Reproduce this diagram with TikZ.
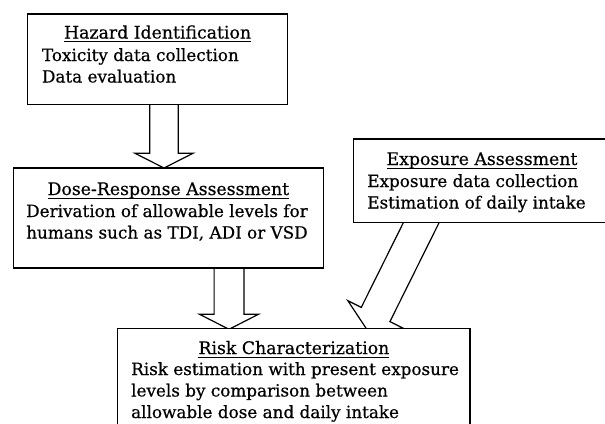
\documentclass[tikz,border=0pt]{standalone}
\usepackage{fontspec}
\setmainfont{DejaVu Serif}[FakeBold=0.6]
\usetikzlibrary{calc}
\pgfdeclarelayer{bg}
\pgfsetlayers{bg,main}
\newcommand\blockarrow[5]{%
  \coordinate (ba-h) at ($(#2)!#5!(#1)$);
  \draw[blk] ($(#1)!#3!-90:(#2)$) -- ($(ba-h)!#3!-90:(#2)$) -- ($(ba-h)!#4!-90:(#2)$)
    -- (#2) -- ($(ba-h)!#4!90:(#2)$) -- ($(ba-h)!#3!90:(#2)$) -- ($(#1)!#3!90:(#2)$);
}
\newcommand\ttlline[1]{%
  \draw[line width=0.8pt] ($(#1.base west)+(0,3)$) -- ($(#1.base east)+(0,3)$);
}
\begin{document}
\begin{tikzpicture}[x=1pt,y=-1pt,
  box/.style={draw, line width=1.2pt, fill=white, rectangle, inner sep=0pt, outer sep=0pt, anchor=north west},
  txt/.style={inner sep=0pt, outer sep=0pt, anchor=base west, font=\fontsize{16.8}{21.5}\selectfont},
  ttl/.style={txt, anchor=base, font=\fontsize{17.3}{21.5}\selectfont},
  blk/.style={draw, line width=1.2pt, fill=white, line join=miter}]
\useasboundingbox (0,0) rectangle (605,423);
\clip (0,0) rectangle (605,423);

% boxes
\node[box, minimum width=259.6pt, minimum height=90.3pt] (haz) at (27.8,14) {};
\node[box, minimum width=309.8pt, minimum height=100pt] (dose) at (13.5,168) {};
\node[box, minimum width=270pt, minimum height=83.7pt] (expo) at (353.8,139) {};
\node[box, minimum width=352.3pt, minimum height=120pt] (risk) at (117.7,328.3) {};

% texts
\node[ttl] (hazT) at (157.6,38.5) {Hazard Identification};
\node[txt] (haz1) at (42,61) {Toxicity data collection};
\node[txt] (haz2) at (42,82.5) {Data evaluation};

\node[ttl] (doseT) at (168.4,195) {Dose-Response Assessment};
\node[txt] (dose1) at (26.2,217) {Derivation of allowable levels for};
\node[txt] (dose2) at (26.2,238.5) {humans such as TDI, ADI or VSD};

\node[ttl] (expoT) at (482,165) {Exposure Assessment};
\node[txt] (expo1) at (367.3,187) {Exposure data collection};
\node[txt] (expo2) at (367.3,208.5) {Estimation of daily intake};

\node[ttl] (riskT) at (293.9,354) {Risk Characterization};
\node[txt] (risk1) at (131.2,375) {Risk estimation with present exposure};
\node[txt] (risk2) at (131.2,396.5) {levels by comparison between};
\node[txt] (risk3) at (131.2,418) {allowable dose and daily intake};

\ttlline{hazT}
\ttlline{doseT}
\ttlline{expoT}
\ttlline{riskT}

% arrows
\begin{pgfonlayer}{bg}
\fill[white] (0,0) rectangle (605,423);
\coordinate (a1s) at ($(164,0 |- haz.south)+(0,-6)$);
\coordinate (a1e) at (164,0 |- dose.north);
\blockarrow{a1s}{a1e}{14.25pt}{29pt}{14.7pt}
\coordinate (a2s) at ($(229,0 |- dose.south)+(0,-6)$);
\coordinate (a2e) at ($(229,0 |- risk.north)+(0,1)$);
\blockarrow{a2s}{a2e}{14.9pt}{29.4pt}{15pt}
\coordinate (a3m) at (421.2,0 |- expo.south);
\coordinate (a3e) at ($(367.6,0 |- risk.north)+(0,2.3)$);
\coordinate (a3s) at ($(a3m)!-15pt!(a3e)$);
\blockarrow{a3s}{a3e}{16pt}{31pt}{18pt}
\end{pgfonlayer}
\end{tikzpicture}
\end{document}
